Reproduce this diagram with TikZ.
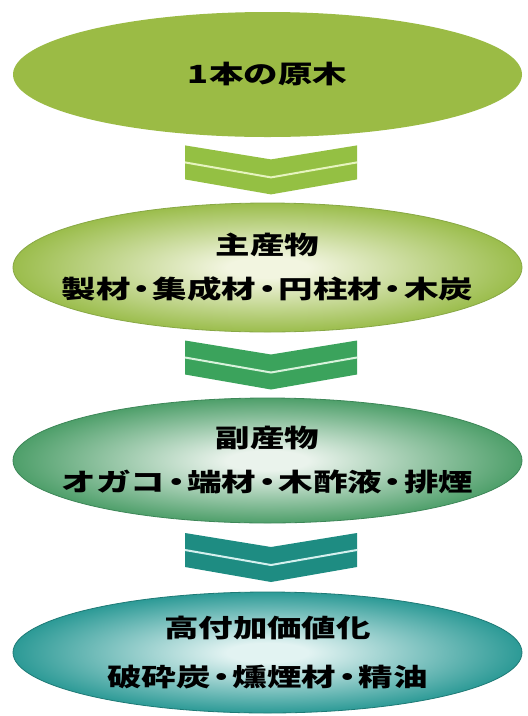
\documentclass[tikz,border=0pt]{standalone}
\usepackage{fontspec}
\usepackage{graphicx}
\newfontfamily\jp{Noto Sans CJK JP}
\usetikzlibrary{shapes.geometric,calc}
\definecolor{eOne}{HTML}{9BBB45}
\definecolor{cOne}{HTML}{94C043}
\definecolor{lOne}{HTML}{E6F4BE}
\definecolor{eTwoIn}{HTML}{F2F5E0}
\definecolor{eTwoOut}{HTML}{9BBD4C}
\definecolor{eTwoLine}{HTML}{88A845}
\definecolor{cTwo}{HTML}{3BA35C}
\definecolor{lTwo}{HTML}{D8F2DC}
\definecolor{eThreeIn}{HTML}{EAF3EC}
\definecolor{eThreeOut}{HTML}{4E9F6A}
\definecolor{eThreeLine}{HTML}{3D8758}
\definecolor{cThree}{HTML}{1E8C82}
\definecolor{lThree}{HTML}{D4F0EE}
\definecolor{eFourIn}{HTML}{E2F3F2}
\definecolor{eFourOut}{HTML}{2C9A96}
\definecolor{eFourLine}{HTML}{1E7A76}
\pgfdeclareradialshading{shTwo}{\pgfpoint{0bp}{0bp}}{color(0bp)=(eTwoIn); color(4bp)=(eTwoIn); color(25bp)=(eTwoOut); color(50bp)=(eTwoOut)}
\pgfdeclareradialshading{shThree}{\pgfpoint{0bp}{0bp}}{color(0bp)=(eThreeIn); color(4bp)=(eThreeIn); color(25bp)=(eThreeOut); color(50bp)=(eThreeOut)}
\pgfdeclareradialshading{shFour}{\pgfpoint{0bp}{0bp}}{color(0bp)=(eFourIn); color(4bp)=(eFourIn); color(25bp)=(eFourOut); color(50bp)=(eFourOut)}
\newcommand\sx[1]{\scalebox{1.38}[1]{#1}}
\newcommand\dt{\makebox[0.64em]{・}}
\newcommand\chevshape[3]{%
  \begin{scope}[shift={(#1)}]
    \fill[#2] (-86,0) -- (0,14) -- (86,0) -- (86,34) -- (0,49) -- (-86,34) -- cycle;
    \draw[#3, line width=2pt] (-86,17) -- (0,32) -- (86,17);
  \end{scope}}
\tikzset{
  ell/.style={ellipse, minimum width=509pt, inner sep=0pt},
  txt/.style={font=\jp\bfseries\fontsize{25}{44}\selectfont, align=center, text=black, inner sep=0pt}
}
\begin{document}
\begin{tikzpicture}[x=1pt,y=-1pt]
\useasboundingbox[fill=white] (0,0) rectangle (528,716);
\node[ell, minimum height=125pt, fill=eOne] (e1) at (267.5,74.5) {};
\node[ell, minimum height=129pt, shading=shTwo, draw=eTwoLine, line width=0.8pt] (e2) at (267.5,267.5) {};
\node[ell, minimum height=125pt, shading=shThree, draw=eThreeLine, line width=0.8pt] (e3) at (267.5,460.5) {};
\node[ell, minimum height=121pt, shading=shFour, draw=eFourLine, line width=0.8pt] (e4) at (267.5,652.5) {};
\node[txt] (t1) at (e1.center) {\sx{1本の原木}};
\node[txt] (t2) at (e2.center) {\sx{主産物}\\\sx{製材\dt 集成材\dt 円柱材\dt 木炭}};
\node[txt] (t3) at (e3.center) {\sx{副産物}\\\sx{オガコ\dt 端材\dt 木酢液\dt 排煙}};
\node[txt, font=\jp\bfseries\fontsize{25}{49}\selectfont] (t4) at (e4.center) {\sx{高付加価値化}\\\sx{破砕炭\dt 燻煙材\dt 精油}};
\coordinate (c1) at ($(e1.south)!0.5!(e2.north)+(3.5,-24.5)$);
\coordinate (c2) at ($(e2.south)!0.5!(e3.north)+(3.5,-24.5)$);
\coordinate (c3) at ($(e3.south)!0.5!(e4.north)+(3.5,-24.5)$);
\chevshape{c1}{cOne}{lOne}
\chevshape{c2}{cTwo}{lTwo}
\chevshape{c3}{cThree}{lThree}
\end{tikzpicture}
\end{document}
